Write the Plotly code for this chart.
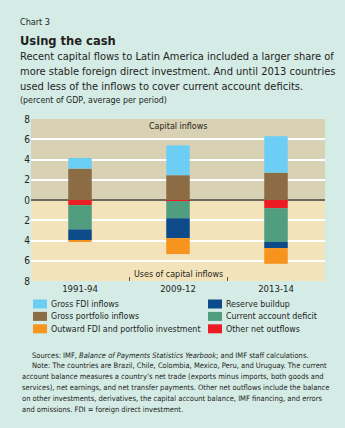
import plotly.graph_objects as go

# ---- data ----
periods = ["1991-94", "2009-12", "2013-14"]
gross_fdi_inflows = [1.05, 2.95, 3.6]
gross_portfolio_inflows = [3.1, 2.45, 2.7]
other_net_outflows = [-0.5, -0.1, -0.8]
current_account_deficit = [-2.4, -1.7, -3.35]
reserve_buildup = [-1.05, -1.97, -0.6]
outward_fdi_portfolio = [-0.2, -1.57, -1.55]

y_tick_values = [-8, -6, -4, -2, 0, 2, 4, 6, 8]
y_tick_labels = ["8", "6", "4", "2", "0", "2", "4", "6", "8"]

# stacking order: positives from zero upward, negatives from zero downward
series = [
    ("Gross portfolio inflows", gross_portfolio_inflows, "#8c6c45"),
    ("Gross FDI inflows", gross_fdi_inflows, "#6dcef5"),
    ("Other net outflows", other_net_outflows, "#ec1c24"),
    ("Current account deficit", current_account_deficit, "#519d80"),
    ("Reserve buildup", reserve_buildup, "#0c4a89"),
    ("Outward FDI and portfolio investment", outward_fdi_portfolio, "#f7941d"),
]
legend_left = ["Gross FDI inflows", "Gross portfolio inflows", "Outward FDI and portfolio investment"]
legend_right = ["Reserve buildup", "Current account deficit", "Other net outflows"]
colors = {n: c for n, _, c in series}

FONT = "DejaVu Sans Condensed, DejaVu Sans, sans-serif"
TXT = "#231f20"

W, H = 345, 428
L, R, T, B = 31, 325, 119, 281


def px(x):
    return (x - L) / (R - L)


def py(y):
    return (B - y) / (B - T)


fig = go.Figure()
for name, vals, col in series:
    fig.add_trace(go.Bar(
        x=periods, y=vals, name=name, marker=dict(color=col, line=dict(width=0)),
        width=0.24, showlegend=False,
    ))

shapes = [
    dict(type="rect", xref="paper", yref="y", x0=0, x1=1, y0=0, y1=8,
         fillcolor="#d9d1b3", line=dict(width=0), layer="below"),
    dict(type="rect", xref="paper", yref="y", x0=0, x1=1, y0=-8, y1=0,
         fillcolor="#f3e3bb", line=dict(width=0), layer="below"),
]

annotations = []


def text(x, y, s, size, anchor="left", **kw):
    annotations.append(dict(
        x=px(x), y=py(y), xref="paper", yref="paper", text=s, showarrow=False,
        xanchor=anchor, yanchor="middle", font=dict(family=FONT, size=size, color=TXT), **kw))


text(18, 22, "Chart 3", 9)
text(18, 40, "<b>Using the cash</b>", 12.8)
sub = ["Recent capital flows to Latin America included a larger share of",
       "more stable foreign direct investment. And until 2013 countries",
       "used less of the inflows to cover current account deficits."]
for i, s in enumerate(sub):
    text(18, 56 + 15 * i, s, 11)
text(18, 100, "(percent of GDP, average per period)", 8.8)
text(178, 126, "Capital inflows", 8.9, anchor="center")
text(178, 274, "Uses of capital inflows", 8.9, anchor="center")

# legend
for col_x, names in ((33, legend_left), (208, legend_right)):
    for i, n in enumerate(names):
        yy = 304 + 12.4 * i
        shapes.append(dict(type="rect", xref="paper", yref="paper",
                           x0=px(col_x), x1=px(col_x + 14), y0=py(yy + 4.5), y1=py(yy - 4.5),
                           fillcolor=colors[n], line=dict(width=0)))
        text(col_x + 16, yy, n, 8.8)

notes = [
    (30, "Sources: IMF, <i>Balance of Payments Statistics Yearbook</i>; and IMF staff calculations."),
    (30, "Note: The countries are Brazil, Chile, Colombia, Mexico, Peru, and Uruguay. The current"),
    (20, "account balance measures a country’s net trade (exports minus imports, both goods and"),
    (20, "services), net earnings, and net transfer payments. Other net outflows include the balance"),
    (20, "on other investments, derivatives, the capital account balance, IMF financing, and errors"),
    (20, "and omissions. FDI = foreign direct investment."),
]
for i, (x0, s) in enumerate(notes):
    text(x0, 355 + 10.9 * i, s, 7.5)

fig.update_layout(
    width=W, height=H, autosize=False,
    margin=dict(l=L, r=W - R, t=T, b=H - B, pad=0),
    paper_bgcolor="#d4ebe6", plot_bgcolor="rgba(0,0,0,0)",
    barmode="relative", bargap=0.5,
    shapes=shapes, annotations=annotations,
    font=dict(family=FONT, color=TXT),
    showlegend=False,
)
fig.update_xaxes(
    type="category", tickson="boundaries", ticks="inside", ticklen=4, tickcolor="#555",
    showgrid=False, showline=False, tickfont=dict(size=9.5, color=TXT),
)
fig.update_yaxes(
    range=[-8, 8], tickvals=y_tick_values, ticktext=y_tick_labels,
    showgrid=True, gridcolor="white", gridwidth=1.6,
    zeroline=True, zerolinecolor="#6d695c", zerolinewidth=2,
    tickfont=dict(size=10, color=TXT), ticks="", showline=False,
)

fig.write_html("out.html")
